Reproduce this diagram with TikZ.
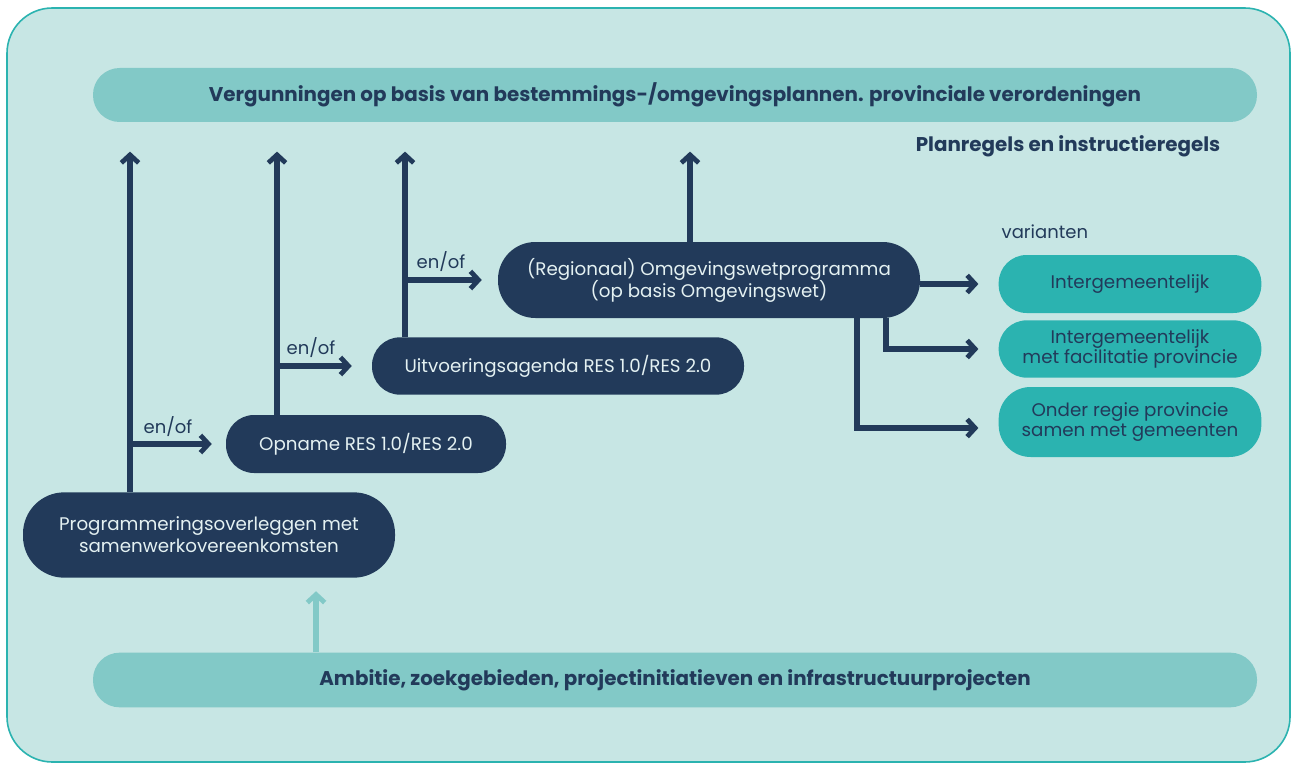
\documentclass[tikz,border=0pt]{standalone}
\usepackage{fontspec}
\setmainfont{Poppins}
\usetikzlibrary{arrows.meta,positioning}
\definecolor{navy}{HTML}{223A5A}
\definecolor{bgteal}{HTML}{C7E6E4}
\definecolor{barteal}{HTML}{82C9C7}
\definecolor{boxteal}{HTML}{2BB3B0}
\definecolor{paletext}{HTML}{E4F1F2}
\tikzset{
  stage/.style={fill=navy, text=paletext, align=center, inner sep=0pt,
    font=\fontsize{13.7}{16.5}\selectfont},
  variant/.style={fill=boxteal, text=navy, align=center, inner sep=0pt,
    minimum width=197pt, font=\fontsize{13.7}{15.5}\selectfont},
  bar/.style={fill=barteal, text=navy, inner sep=0pt, minimum width=873pt,
    rounded corners=20pt, font=\bfseries\fontsize{14.9}{17}\selectfont},
  flow/.style={navy, line width=4.2pt,
    -{Straight Barb[length=6pt,width=13pt,line width=3.6pt]}},
  feed/.style={barteal, line width=4.2pt,
    -{Straight Barb[length=6pt,width=13pt,line width=3.6pt]}},
  andor/.style={text=navy, font=\fontsize{13.5}{15}\selectfont}
}
\begin{document}
\begin{tikzpicture}[x=0.75pt,y=-0.75pt]
\useasboundingbox (0,0) rectangle (1292,763);
\draw[boxteal, line width=1.2pt, fill=bgteal, rounded corners=34pt] (7,8) rectangle (1290,762);

% bars
\node[bar, minimum height=40.5pt] (regels) at (675,95) {Vergunningen op basis van bestemmings-/omgevingsplannen. provinciale verordeningen};
\node[bar, minimum height=41pt] (ambitie) at (675,680) {Ambitie, zoekgebieden, projectinitiatieven en infrastructuurprojecten};
\node[anchor=east, text=navy, font=\bfseries\fontsize{14.9}{17}\selectfont] (plan) at (1225,146) {Planregels en instructieregels};

% stages
\node[stage, minimum width=279pt, minimum height=64pt, rounded corners=31pt] (prog) at (209,535) {Programmeringsoverleggen met\\samenwerkovereenkomsten};
\node[stage, minimum width=210pt, minimum height=43.5pt, rounded corners=21pt] (opname) at (366,444) {Opname RES 1.0/RES 2.0};
\node[stage, minimum width=279pt, minimum height=43pt, rounded corners=21pt] (agenda) at (558,366) {Uitvoeringsagenda RES 1.0/RES 2.0};
\node[stage, minimum width=316.5pt, minimum height=57pt, rounded corners=28pt] (omg) at (709,280) {(Regionaal) Omgevingswetprogramma\\(op basis Omgevingswet)};

% variants
\node[anchor=west, text=navy, font=\fontsize{13.5}{15}\selectfont] (var) at (997,232) {varianten};
\node[variant, minimum height=43.5pt, rounded corners=21pt] (inter1) at (1130,284) {Intergemeentelijk};
\node[variant, minimum height=43pt, rounded corners=21pt] (inter2) at (1130,349) {Intergemeentelijk\\met facilitatie provincie};
\node[variant, minimum height=52.5pt, rounded corners=24pt] (regie) at (1130,422) {Onder regie provincie\\samen met gemeenten};

% columns of the up arrows
\coordinate (c1) at (130,0);
\coordinate (c2) at (277,0);
\coordinate (c3) at (405,0);
\coordinate (c4) at (690,0);
\coordinate (c5) at (886,0);
\coordinate (c6) at (857,0);
\coordinate (c7) at (316,0);

\draw[flow, shorten >=22pt] (prog.north -| c1) -- (c1 |- regels.south);
\draw[flow, shorten >=22pt] (opname.north -| c2) -- (c2 |- regels.south);
\draw[flow, shorten >=22pt] (agenda.north -| c3) -- (c3 |- regels.south);
\draw[flow, shorten >=22pt] (omg.north -| c4) -- (c4 |- regels.south);

% en/of branches
\draw[flow, shorten >=10.5pt] (c1 |- opname.west) -- (opname.west);
\node[andor] (eo1) at (168,427) {en/of};
\draw[flow, shorten >=15pt] (c2 |- agenda.west) -- (agenda.west);
\node[andor] (eo2) at (311,348) {en/of};
\draw[flow, shorten >=12pt] (c3 |- omg.west) -- (omg.west);
\node[andor] (eo3) at (441,262) {en/of};

% to the variants
\draw[flow, shorten >=15pt] (omg.east |- inter1.west) -- (inter1.west);
\draw[flow, shorten >=15pt] (c5 |- omg.south) |- (inter2.west);
\draw[flow, shorten >=15pt] (c6 |- omg.south) |- ([yshift=-4.5pt]regie.west);

% input from below
\draw[feed, shorten >=10pt] (c7 |- ambitie.north) -- (c7 |- prog.south);
\end{tikzpicture}
\end{document}
